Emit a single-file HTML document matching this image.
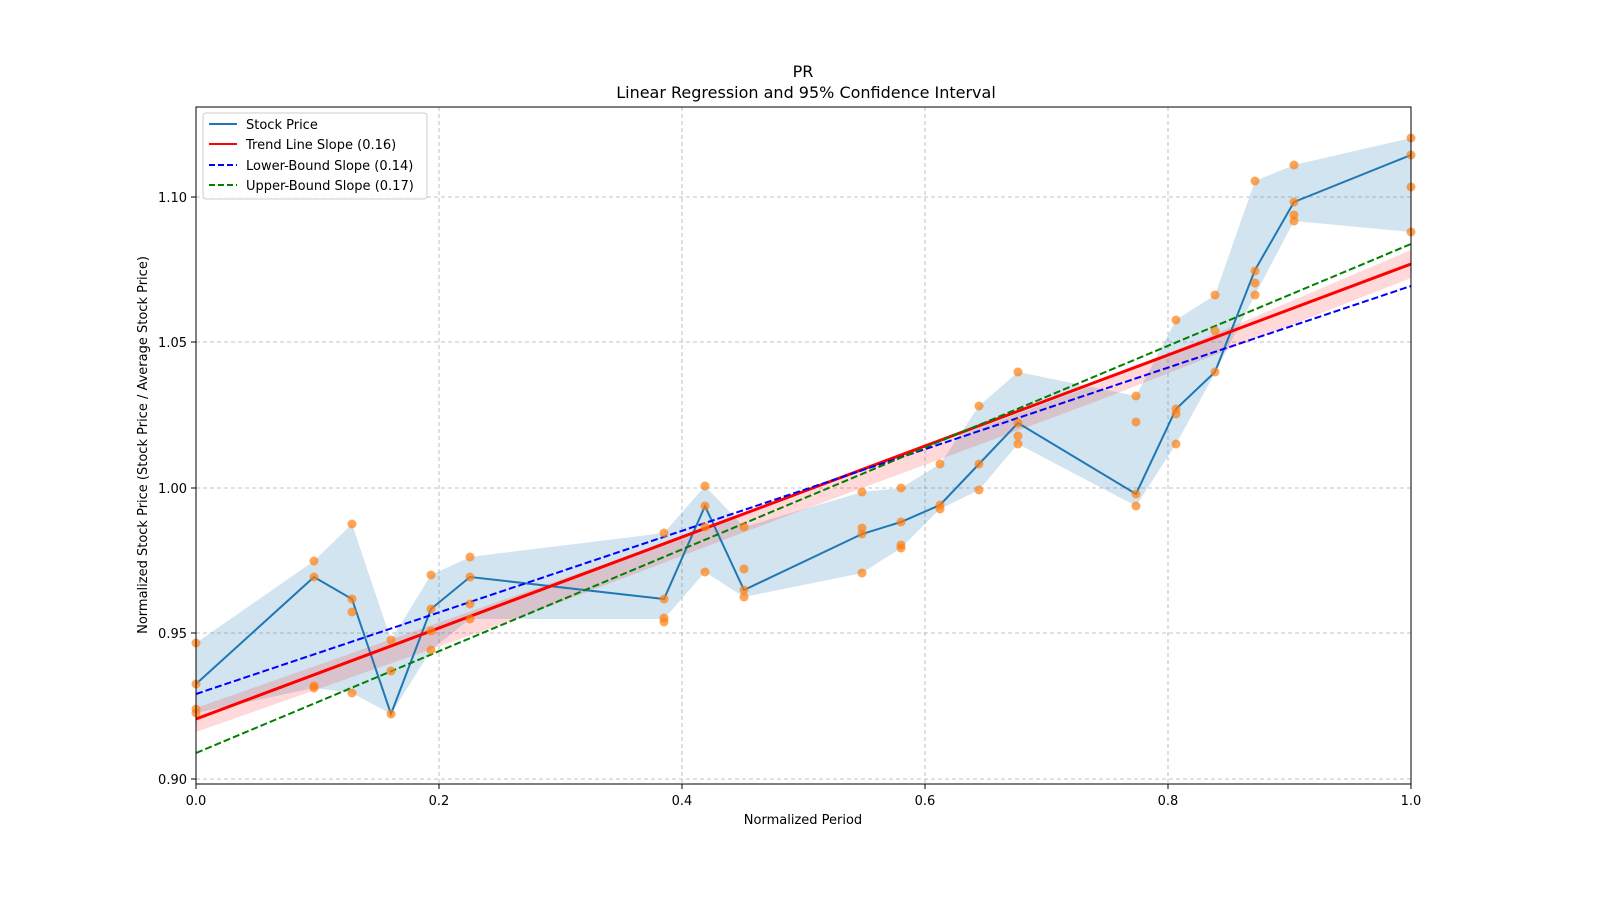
<!DOCTYPE html>
<html><head><meta charset="utf-8"><style>body{margin:0;background:#fff}svg{display:block}text{font-family:"DejaVu Sans","Liberation Sans",sans-serif;fill:#000}</style></head><body>
<svg width="1600" height="900" viewBox="0 0 1600 900">
<g stroke="#b0b0b0" stroke-dasharray="4,3" stroke-width="0.8">
<line x1="439" y1="107" x2="439" y2="784"/><line x1="682" y1="107" x2="682" y2="784"/><line x1="925" y1="107" x2="925" y2="784"/><line x1="1168" y1="107" x2="1168" y2="784"/>
<line x1="196" y1="197" x2="1411" y2="197"/><line x1="196" y1="342" x2="1411" y2="342"/><line x1="196" y1="488" x2="1411" y2="488"/><line x1="196" y1="633" x2="1411" y2="633"/><line x1="196" y1="779" x2="1411" y2="779"/>
</g>
<polygon fill="#1f77b4" fill-opacity="0.2" points="196,643 314,561 352,524 391,640 431,575 470,557 664,533 705,486 744,527 862,492 901,488 940,464 979,406 1018,372 1136,396 1176,320 1215,295 1255,181 1294,165 1411,138 1411,232 1294,221 1255,295 1215,373 1176,444 1136,506 1018,444 979,490 940,509 901,548 862,573 744,597 705,572 664,619 470,619 431,650 391,714 352,693 314,688 196,713"/>
<polygon fill="#ff0000" fill-opacity="0.15" points="196,708 500,601 800,495 1100,383 1411,250 1411,278 1100,400 800,511 500,625 196,732"/>
<polyline fill="none" stroke="#1f77b4" stroke-width="2" points="196,684 314,577 352,599 391,714 431,609 470,577 664,599 705,506 744,590 862,534 901,522 940,505 979,464 1018,423 1136,494 1176,409 1215,372 1255,270 1294,202 1411,155"/>
<line x1="196" y1="719" x2="1411" y2="264" stroke="#ff0000" stroke-width="3"/>
<line x1="196" y1="694" x2="1411" y2="286" stroke="#0000ff" stroke-width="2" stroke-dasharray="7,3"/>
<line x1="196" y1="753" x2="1411" y2="244" stroke="#008000" stroke-width="2" stroke-dasharray="7,3"/>
<g fill="#ff7f0e" fill-opacity="0.7">
<circle cx="196" cy="643" r="4.5"/><circle cx="196" cy="684" r="4.5"/><circle cx="196" cy="709" r="4.5"/><circle cx="196" cy="713" r="4.5"/>
<circle cx="314" cy="561" r="4.5"/><circle cx="314" cy="577" r="4.5"/><circle cx="314" cy="686" r="4.5"/><circle cx="314" cy="688" r="4.5"/>
<circle cx="352" cy="524" r="4.5"/><circle cx="352" cy="599" r="4.5"/><circle cx="352" cy="612" r="4.5"/><circle cx="352" cy="693" r="4.5"/>
<circle cx="391" cy="640" r="4.5"/><circle cx="391" cy="671" r="4.5"/><circle cx="391" cy="714" r="4.5"/>
<circle cx="431" cy="575" r="4.5"/><circle cx="431" cy="609" r="4.5"/><circle cx="431" cy="631" r="4.5"/><circle cx="431" cy="650" r="4.5"/>
<circle cx="470" cy="557" r="4.5"/><circle cx="470" cy="577" r="4.5"/><circle cx="470" cy="604" r="4.5"/><circle cx="470" cy="619" r="4.5"/>
<circle cx="664" cy="533" r="4.5"/><circle cx="664" cy="599" r="4.5"/><circle cx="664" cy="618" r="4.5"/><circle cx="664" cy="622" r="4.5"/>
<circle cx="705" cy="486" r="4.5"/><circle cx="705" cy="506" r="4.5"/><circle cx="705" cy="527" r="4.5"/><circle cx="705" cy="572" r="4.5"/>
<circle cx="744" cy="527" r="4.5"/><circle cx="744" cy="569" r="4.5"/><circle cx="744" cy="590" r="4.5"/><circle cx="744" cy="597" r="4.5"/>
<circle cx="862" cy="492" r="4.5"/><circle cx="862" cy="528" r="4.5"/><circle cx="862" cy="534" r="4.5"/><circle cx="862" cy="573" r="4.5"/>
<circle cx="901" cy="488" r="4.5"/><circle cx="901" cy="522" r="4.5"/><circle cx="901" cy="545" r="4.5"/><circle cx="901" cy="548" r="4.5"/>
<circle cx="940" cy="464" r="4.5"/><circle cx="940" cy="505" r="4.5"/><circle cx="940" cy="509" r="4.5"/>
<circle cx="979" cy="406" r="4.5"/><circle cx="979" cy="464" r="4.5"/><circle cx="979" cy="490" r="4.5"/>
<circle cx="1018" cy="372" r="4.5"/><circle cx="1018" cy="423" r="4.5"/><circle cx="1018" cy="436" r="4.5"/><circle cx="1018" cy="444" r="4.5"/>
<circle cx="1136" cy="396" r="4.5"/><circle cx="1136" cy="422" r="4.5"/><circle cx="1136" cy="494" r="4.5"/><circle cx="1136" cy="506" r="4.5"/>
<circle cx="1176" cy="320" r="4.5"/><circle cx="1176" cy="409" r="4.5"/><circle cx="1176" cy="414" r="4.5"/><circle cx="1176" cy="444" r="4.5"/>
<circle cx="1215" cy="295" r="4.5"/><circle cx="1215" cy="331" r="4.5"/><circle cx="1215" cy="372" r="4.5"/>
<circle cx="1255" cy="181" r="4.5"/><circle cx="1255" cy="271" r="4.5"/><circle cx="1255" cy="283" r="4.5"/><circle cx="1255" cy="295" r="4.5"/>
<circle cx="1294" cy="165" r="4.5"/><circle cx="1294" cy="202" r="4.5"/><circle cx="1294" cy="215" r="4.5"/><circle cx="1294" cy="221" r="4.5"/>
<circle cx="1411" cy="138" r="4.5"/><circle cx="1411" cy="155" r="4.5"/><circle cx="1411" cy="187" r="4.5"/><circle cx="1411" cy="232" r="4.5"/>
</g>
<rect x="196" y="107" width="1215" height="677" fill="none" stroke="#000" stroke-width="1"/>
<g stroke="#000"><line x1="196" y1="784" x2="196" y2="789"/><line x1="439" y1="784" x2="439" y2="789"/><line x1="682" y1="784" x2="682" y2="789"/><line x1="925" y1="784" x2="925" y2="789"/><line x1="1168" y1="784" x2="1168" y2="789"/><line x1="1411" y1="784" x2="1411" y2="789"/>
<line x1="191" y1="197" x2="196" y2="197"/><line x1="191" y1="342" x2="196" y2="342"/><line x1="191" y1="488" x2="196" y2="488"/><line x1="191" y1="633" x2="196" y2="633"/><line x1="191" y1="779" x2="196" y2="779"/></g>
<g font-size="13" text-anchor="middle"><text x="196" y="805">0.0</text><text x="439" y="805">0.2</text><text x="682" y="805">0.4</text><text x="925" y="805">0.6</text><text x="1168" y="805">0.8</text><text x="1411" y="805">1.0</text></g>
<g font-size="13" text-anchor="end"><text x="187" y="202">1.10</text><text x="187" y="347">1.05</text><text x="187" y="493">1.00</text><text x="187" y="638">0.95</text><text x="187" y="784">0.90</text></g>
<text x="803" y="824" font-size="13" text-anchor="middle">Normalized Period</text>
<text transform="translate(147,445) rotate(-90)" font-size="13" text-anchor="middle">Normalized Stock Price (Stock Price / Average Stock Price)</text>
<text x="803" y="77" font-size="16" text-anchor="middle">PR</text>
<text x="806" y="98" font-size="16" text-anchor="middle">Linear Regression and 95% Confidence Interval</text>
<rect x="203" y="113" width="224" height="86" rx="3" fill="#fff" fill-opacity="0.8" stroke="#ccc"/>
<line x1="209" y1="124" x2="237" y2="124" stroke="#1f77b4" stroke-width="2"/>
<line x1="209" y1="144" x2="237" y2="144" stroke="#ff0000" stroke-width="2"/>
<line x1="209" y1="165" x2="237" y2="165" stroke="#0000ff" stroke-width="2" stroke-dasharray="6,3"/>
<line x1="209" y1="185" x2="237" y2="185" stroke="#008000" stroke-width="2" stroke-dasharray="6,3"/>
<g font-size="13"><text x="246" y="129">Stock Price</text><text x="246" y="149">Trend Line Slope (0.16)</text><text x="246" y="170">Lower-Bound Slope (0.14)</text><text x="246" y="190">Upper-Bound Slope (0.17)</text></g>
</svg>
</body></html>
